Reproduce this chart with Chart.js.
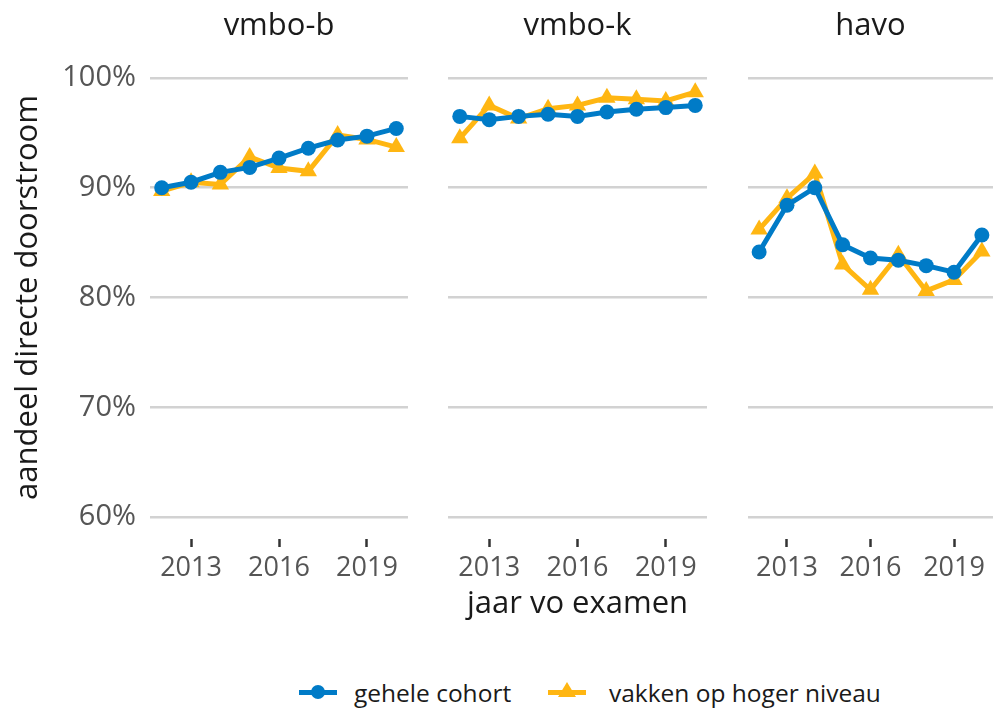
<!DOCTYPE html>
<html>
<head>
<meta charset="utf-8">
<script src="https://cdn.jsdelivr.net/npm/chart.js@4"></script>
<style>
  body { margin: 0; background: #fff; width: 1003px; height: 711px; overflow: hidden; position: relative; font-family: "Open Sans", sans-serif; }
  canvas { position: absolute; top: 0; }
  .lbl { position: absolute; top: 676px; font-size: 24.5px; line-height: 34px; color: #1a1a1a; white-space: nowrap; }
  .ln { position: absolute; top: 690px; width: 38px; height: 5px; }
  .dot { position: absolute; top: 685px; width: 14px; height: 14px; border-radius: 50%; background: #007bc7; }
  .tri { position: absolute; top: 682px; width: 0; height: 0; border-left: 9px solid transparent; border-right: 9px solid transparent; border-bottom: 15px solid #ffb612; }
</style>
</head>
<body>
<canvas id="p1" width="420" height="629" style="left:0"></canvas>
<canvas id="p2" width="300" height="629" style="left:420px"></canvas>
<canvas id="p3" width="283" height="629" style="left:720px"></canvas>
<div class="ln" style="left:299px;background:#007bc7"></div><div class="dot" style="left:311px"></div>
<span class="lbl" style="left:354px">gehele cohort</span>
<div class="ln" style="left:548px;background:#ffb612"></div><div class="tri" style="left:558px"></div>
<span class="lbl" style="left:609px">vakken op hoger niveau</span>
<script>
(function facets () {
    'use strict';

    var years = [2012, 2013, 2014, 2015, 2016, 2017, 2018, 2019, 2020];
    var yearTicks = [2013, 2016, 2019];
    var pctTicks = [60, 70, 80, 90, 100];
    var panels = ['vmbo-b', 'vmbo-k', 'havo'];
    var seriesNames = ['gehele cohort', 'vakken op hoger niveau'];

    var vmbobCohort = [90.0, 90.5, 91.4, 91.85, 92.7, 93.6, 94.35, 94.7, 95.4];
    var vmbobHoger = [89.7, 90.5, 90.3, 92.8, 91.8, 91.5, 94.8, 94.4, 93.7];
    var vmbokCohort = [96.5, 96.2, 96.5, 96.7, 96.5, 96.9, 97.15, 97.3, 97.5];
    var vmbokHoger = [94.5, 97.5, 96.3, 97.2, 97.5, 98.2, 98.05, 97.9, 98.7];
    var havoCohort = [84.15, 88.4, 90.0, 84.8, 83.6, 83.4, 82.9, 82.3, 85.7];
    var havoHoger = [86.2, 89.05, 91.3, 83.0, 80.7, 83.9, 80.6, 81.6, 84.2];

    var blue = '#007bc7';
    var yellow = '#ffb612';
    var font = '"Open Sans", sans-serif';

    function points(values) {
        return values.map(function (v, i) { return {x: years[i], y: v}; });
    }

    function makePanel(id, title, cohort, hoger, yWidth, rightPad, showY, showXTitle) {
        var ctx = document.getElementById(id).getContext('2d');
        return new Chart(ctx, {
            type: 'line',
            data: {
                datasets: [{
                    label: seriesNames[0],
                    data: points(cohort),
                    borderColor: blue,
                    backgroundColor: blue,
                    borderWidth: 5,
                    pointStyle: 'circle',
                    pointRadius: 7.5,
                    pointBorderWidth: 0,
                    tension: 0
                }, {
                    label: seriesNames[1],
                    data: points(hoger),
                    borderColor: yellow,
                    backgroundColor: yellow,
                    borderWidth: 5,
                    pointStyle: 'triangle',
                    pointRadius: 10,
                    pointBorderWidth: 0,
                    tension: 0
                }]
            },
            options: {
                responsive: false,
                animation: false,
                layout: {padding: {left: 0, right: rightPad, top: 0, bottom: 0}},
                plugins: {
                    legend: {display: false},
                    tooltip: {enabled: false},
                    title: {
                        display: true,
                        text: title,
                        fullSize: false,
                        color: '#1a1a1a',
                        font: {family: font, size: 31, weight: 'normal', lineHeight: 1.2},
                        padding: {top: 8, bottom: 10.8}
                    }
                },
                scales: {
                    x: {
                        type: 'linear',
                        min: 2011.6,
                        max: 2020.4,
                        afterBuildTicks: function (scale) {
                            scale.ticks = yearTicks.map(function (v) { return {value: v}; });
                        },
                        afterFit: function (scale) { scale.height = 90; },
                        border: {display: false},
                        grid: {drawOnChartArea: false, drawTicks: true, tickLength: 8, tickWidth: 2.5, tickColor: '#333'},
                        ticks: {
                            color: '#555',
                            padding: 5,
                            maxRotation: 0,
                            font: {family: font, size: 27},
                            callback: function (v) { return String(v); }
                        },
                        title: {
                            display: showXTitle,
                            text: 'jaar vo examen',
                            color: '#1a1a1a',
                            font: {family: font, size: 31},
                            padding: {top: 0, bottom: 6}
                        }
                    },
                    y: {
                        type: 'linear',
                        min: 58,
                        max: 102,
                        afterBuildTicks: function (scale) {
                            scale.ticks = pctTicks.map(function (v) { return {value: v}; });
                        },
                        afterFit: function (scale) { scale.width = yWidth; },
                        border: {display: false},
                        grid: {color: '#d2d2d2', lineWidth: 2.5, drawTicks: false},
                        ticks: {
                            display: showY,
                            color: '#555',
                            padding: 14,
                            font: {family: font, size: 29},
                            callback: function (v) { return v + '%'; }
                        },
                        title: {
                            display: showY,
                            text: 'aandeel directe doorstroom',
                            color: '#1a1a1a',
                            font: {family: font, size: 31},
                            padding: {top: 10, bottom: 0}
                        }
                    }
                }
            }
        });
    }

    makePanel('p1', panels[0], vmbobCohort, vmbobHoger, 150, 12, true, false);
    makePanel('p2', panels[1], vmbokCohort, vmbokHoger, 28, 13, false, true);
    makePanel('p3', panels[2], havoCohort, havoHoger, 28, 0, false, false);
}());
</script>
</body>
</html>
